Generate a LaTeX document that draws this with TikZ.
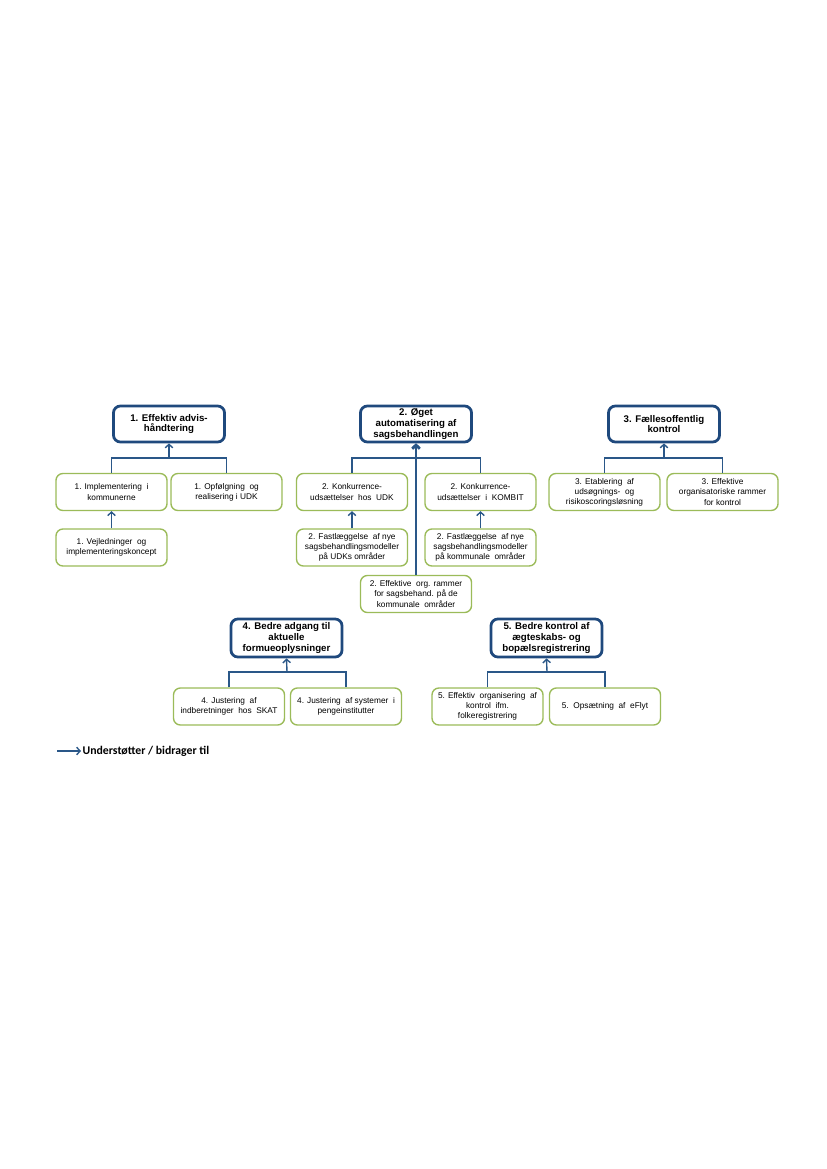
\documentclass[tikz,border=0pt]{standalone}
\usepackage{fontspec}
\setmainfont{Liberation Sans}
\newfontfamily\legendfont{Carlito}
\usetikzlibrary{arrows.meta}

\definecolor{titleblue}{HTML}{1F497D}
\definecolor{linkblue}{HTML}{2A5788}
\definecolor{leafgreen}{HTML}{9BBB59}

\begin{document}
\begin{tikzpicture}[x=0.01in,y=-0.01in,
  goal/.style={draw=titleblue, line width=2pt, rounded corners=5pt, fill=white,
    align=center, font=\bfseries\fontsize{7}{7.7}\selectfont,
    minimum width=1.11in, minimum height=0.36in, inner sep=0.5pt},
  goaltall/.style={goal, minimum height=0.38in},
  leaf/.style={draw=leafgreen, line width=1pt, rounded corners=5pt, fill=white,
    align=center, font=\fontsize{6}{7.3}\selectfont,
    minimum width=1.11in, minimum height=0.37in, inner sep=1pt},
  link/.style={draw=linkblue, line width=1pt},
  support/.style={link, -{Straight Barb[length=2.5pt,width=5.5pt]}}]
\useasboundingbox (0,0) rectangle (827,1169);

%%%%%%%%% gruppe 1
\node[goal] (advis) at (169,424) {1. Effektiv advis-\\håndtering};
\node[leaf] (impl) at (111.5,492) {1. Implementering\ \ i\\kommunerne};
\node[leaf] (opf) at (226.5,492) {1. Opfølgning\ \ og\\realisering i UDK};
\node[leaf] (vejl) at (111.5,547.5) {1. Vejledninger\ \ og\\implementeringskoncept};

\coordinate (j1) at (169,458);
\draw[link] (impl.north) |- (j1) -| (opf.north);
\draw[support] (j1) to (advis.south);
\draw[support] (vejl.north) to (impl.south);

%%%%%%%%% gruppe 2
\node[goal] (oget) at (416,424) {2. Øget\\automatisering af\\sagsbehandlingen};
\node[leaf] (kudk) at (352,492) {2. Konkurrence-\\udsættelser\ \ hos\ \ UDK};
\node[leaf] (kkom) at (480.5,492) {2. Konkurrence-\\udsættelser\ \ i\ \ KOMBIT};
\node[leaf] (fudk) at (352,547.5) {2. Fastlæggelse\ \ af nye\\sagsbehandlingsmodeller\\på UDKs områder};
\node[leaf] (fkom) at (480.5,547.5) {2. Fastlæggelse\ \ af nye\\sagsbehandlingsmodeller\\på kommunale\ \ områder};
\node[leaf] (orgr) at (416,594) {2. Effektive\ \ org. rammer\\for sagsbehand. på de\\kommunale\ \ områder};

\coordinate (j2) at (416,458);
\draw[link] (kudk.north) |- (j2) -| (kkom.north);
\draw[support] (j2) to (oget.south);
\draw[support] (fudk.north) to (kudk.south);
\draw[support] (fkom.north) to (kkom.south);
\draw[support, line width=2pt] (orgr.north) to (oget.south);

%%%%%%%%% gruppe 3
\node[goal] (faelles) at (664,424) {3. Fællesoffentlig\\kontrol};
\node[leaf] (etab) at (604.5,492) {3. Etablering\ \ af\\udsøgnings-\ \ og\\risikoscoringsløsning};
\node[leaf] (effr) at (722.5,492) {3. Effektive\\organisatoriske rammer\\for kontrol};

\coordinate (j3) at (664,458);
\draw[link] (etab.north) |- (j3) -| (effr.north);
\draw[support] (j3) to (faelles.south);

%%%%%%%%% gruppe 4
\node[goaltall] (formue) at (286.5,638) {4. Bedre adgang til\\aktuelle\\formueoplysninger};
\node[leaf] (skat) at (229,706.5) {4. Justering\ \ af\\indberetninger\ \ hos\ \ SKAT};
\node[leaf] (penge) at (346,706.5) {4. Justering\ \ af systemer\ \ i\\pengeinstitutter};

\coordinate (j4) at (287,672);
\draw[link] (skat.north) |- (j4) -| (penge.north);
\draw[support] (j4) to (formue.south);

%%%%%%%%% gruppe 5
\node[goaltall] (aegt) at (546.5,638) {5. Bedre kontrol af\\ægteskabs- og\\bopælsregistrering};
\node[leaf] (folk) at (487.5,706.5) {5. Effektiv\ \ organisering\ \ af\\kontrol\ \ ifm.\\folkeregistrering};
\node[leaf] (eflyt) at (605,706.5) {5.\ \ Opsætning\ \ af\ \ eFlyt};

\coordinate (j5) at (547,672);
\draw[link] (folk.north) |- (j5) -| (eflyt.north);
\draw[support] (j5) to (aegt.south);

%%%%%%%%% forklaring
\coordinate (legstart) at (57,751);
\node[anchor=west, inner sep=1pt, font=\legendfont\bfseries\fontsize{8.5}{10}\selectfont] (legtxt) at (81,751) {Understøtter / bidrager til};
\draw[support] (legstart) to (legtxt.west);

\end{tikzpicture}
\end{document}
